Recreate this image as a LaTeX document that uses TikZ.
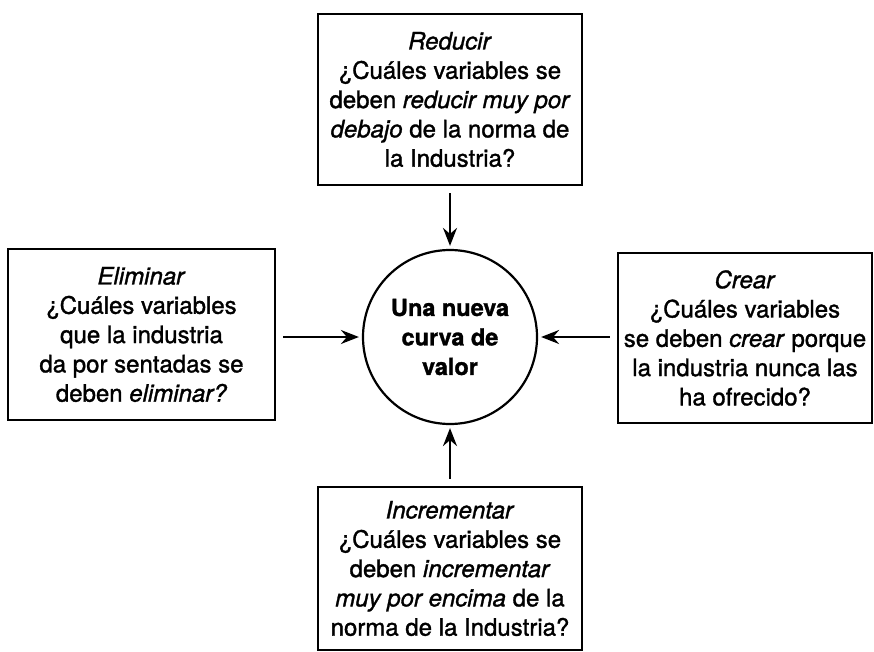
\documentclass[tikz,border=0pt]{standalone}
\usepackage{fontspec}
\setmainfont{TeX Gyre Heros}[RawFeature={embolden=1.3}]
\usetikzlibrary{arrows.meta}
\tikzset{
  box/.style={draw, line width=2.2pt, rectangle, inner sep=0pt, align=center,
    font=\fontsize{24}{29.3}\selectfont},
  hub/.style={draw, line width=2.2pt, circle, inner sep=0pt, minimum size=174pt,
    align=center, font=\fontsize{23.5}{29.5}\selectfont\bfseries},
  arr/.style={line width=2.2pt, -{Stealth[length=18pt,width=14pt,inset=6pt]},
    shorten <=7pt, shorten >=3pt}
}
\begin{document}
\begin{tikzpicture}[x=1pt,y=-1pt]
\useasboundingbox (0,0) rectangle (874,652);
\node[hub] (c) at (450,337) {Una nueva\\curva de\\valor};
\node[box, minimum width=264pt, minimum height=171pt] (top) at (450,99.5)
  {\textit{Reducir}\\¿Cuáles variables se\\deben \textit{reducir muy por}\\\textit{debajo} de la norma de\\la Industria?};
\node[box, minimum width=267pt, minimum height=171pt] (left) at (141.5,334.5)
  {\textit{Eliminar}\\¿Cuáles variables\\que la industria\\da por sentadas se\\deben \textit{eliminar?}};
\node[box, minimum width=254pt, minimum height=170pt] (right) at (745,338)
  {\textit{Crear}\\¿Cuáles variables\\se deben \textit{crear} porque\\la industria nunca las\\ha ofrecido?};
\node[box, minimum width=264pt, minimum height=163pt] (bottom) at (450,568.5)
  {\textit{Incrementar}\\¿Cuáles variables se\\deben \textit{incrementar}\\\textit{muy por encima} de la\\norma de la Industria?};
\draw[arr] (top.south) -- (c.north);
\draw[arr] (left.east |- c.west) -- (c.west);
\draw[arr] (right.west |- c.east) -- (c.east);
\draw[arr] (bottom.north) -- (c.south);
\end{tikzpicture}
\end{document}
